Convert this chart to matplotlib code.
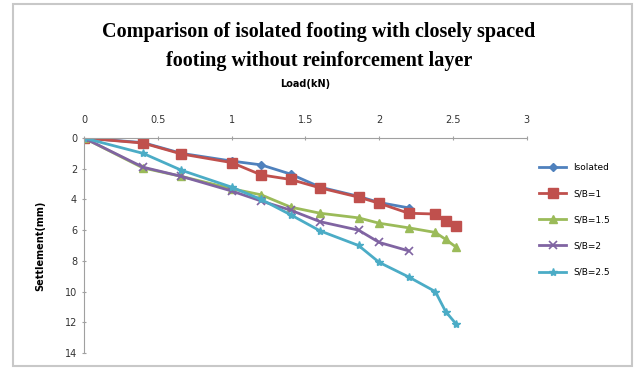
import numpy as np
import matplotlib
matplotlib.use('Agg')
import matplotlib.pyplot as plt

# load (kN) and settlement (mm)
load_iso = [0, 0.4, 0.66, 1.0, 1.2, 1.4, 1.6, 1.86, 2.0, 2.2]
set_iso = [0, 0.3, 1.0, 1.5, 1.75, 2.35, 3.2, 3.8, 4.2, 4.55]

load_sb1 = [0, 0.4, 0.66, 1.0, 1.2, 1.4, 1.6, 1.86, 2.0, 2.2, 2.38, 2.45, 2.52]
set_sb1 = [0, 0.33, 1.04, 1.6, 2.4, 2.7, 3.25, 3.85, 4.25, 4.9, 4.95, 5.4, 5.7]

load_sb15 = [0, 0.4, 0.66, 1.0, 1.2, 1.4, 1.6, 1.86, 2.0, 2.2, 2.38, 2.45, 2.52]
set_sb15 = [0, 1.95, 2.5, 3.3, 3.7, 4.5, 4.9, 5.2, 5.55, 5.85, 6.15, 6.6, 7.1]

load_sb2 = [0, 0.4, 0.66, 1.0, 1.2, 1.4, 1.6, 1.86, 2.0, 2.2]
set_sb2 = [0, 1.9, 2.5, 3.45, 4.1, 4.7, 5.45, 6.0, 6.8, 7.35]

load_sb25 = [0, 0.4, 0.66, 1.0, 1.2, 1.4, 1.6, 1.86, 2.0, 2.2, 2.38, 2.45, 2.52]
set_sb25 = [0, 1.0, 2.1, 3.2, 4.0, 5.0, 6.05, 7.0, 8.1, 9.05, 10.0, 11.3, 12.1]

labels = ['Isolated', 'S/B=1', 'S/B=1.5', 'S/B=2', 'S/B=2.5']
xticks = [0, 0.5, 1, 1.5, 2, 2.5, 3]
yticks = [0, 2, 4, 6, 8, 10, 12, 14]

fig = plt.figure(figsize=(6.38, 3.70), dpi=100)
# outer chart frame
fig.patches.append(plt.Rectangle((0.02, 0.01), 0.97, 0.98, transform=fig.transFigure,
                                 fill=False, edgecolor='#c8c8c8', lw=1.5))
ax = fig.add_axes([0.1317, 0.046, 0.694, 0.581])

ax.plot(load_iso, set_iso, color='#4F81BD', marker='D', ms=4, lw=2, label=labels[0])
ax.plot(load_sb1, set_sb1, color='#C0504D', marker='s', ms=7, lw=2, label=labels[1])
ax.plot(load_sb15, set_sb15, color='#9BBB59', marker='^', ms=6, lw=2, label=labels[2])
ax.plot(load_sb2, set_sb2, color='#8064A2', marker='x', ms=6, mew=1.2, lw=2, label=labels[3])
ax.plot(load_sb25, set_sb25, color='#4BACC6', marker='*', ms=6, lw=2, label=labels[4])

ax.set_xlim(0, 3)
ax.set_ylim(14, 0)
ax.set_xticks(xticks)
ax.set_xticklabels(['0', '0.5', '1', '1.5', '2', '2.5', '3'])
ax.set_yticks(yticks)
ax.xaxis.tick_top()
ax.xaxis.set_label_position('top')
ax.tick_params(labelsize=7, color='#a0a0a0', length=3, direction='inout', labelcolor='#333333')
ax.tick_params(axis='x', pad=8)
for s in ['right', 'bottom']:
    ax.spines[s].set_visible(False)
for s in ['top', 'left']:
    ax.spines[s].set_color('#a0a0a0')

ax.set_xlabel('Load(kN)', fontsize=7, fontweight='bold', labelpad=20)
ax.set_ylabel('Settlement(mm)', fontsize=7, fontweight='bold', labelpad=14)

fig.text(0.5, 0.874, 'Comparison of isolated footing with closely spaced\nfooting without reinforcement layer',
         ha='center', va='center', fontsize=14.5, fontweight='bold', family='Liberation Serif',
         linespacing=1.55)

ax.legend(loc='upper left', bbox_to_anchor=(1.02, 0.9), frameon=False, fontsize=6.5,
          handlelength=3, labelspacing=1.9, borderaxespad=0)

fig.savefig('out.png', dpi=100)
